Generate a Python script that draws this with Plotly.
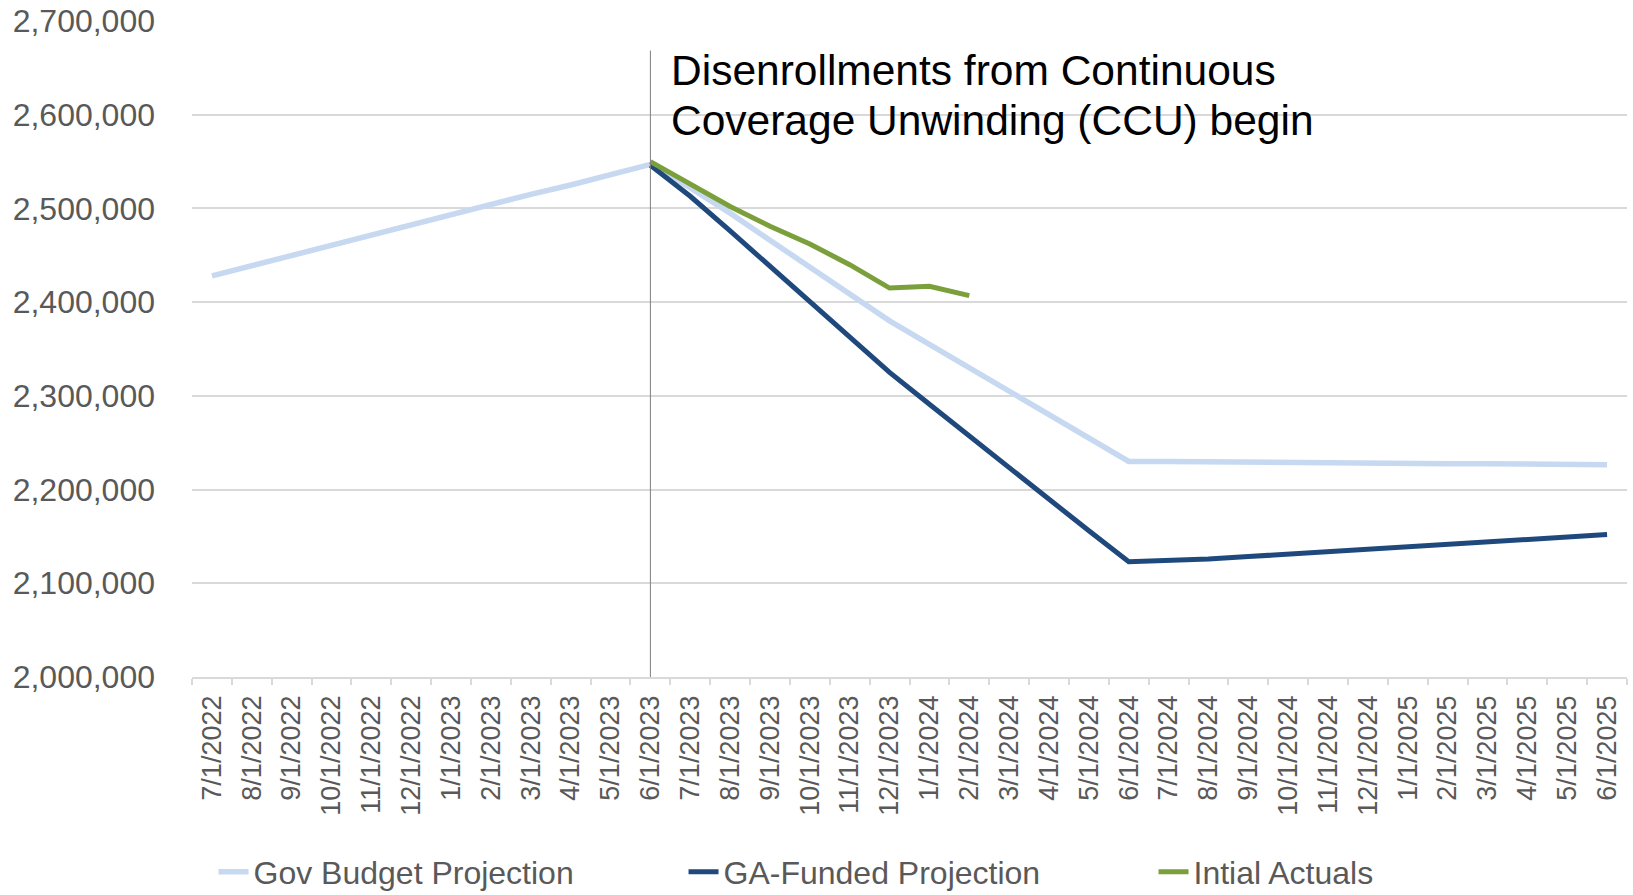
import plotly.graph_objects as go

months = [
    "7/1/2022", "8/1/2022", "9/1/2022", "10/1/2022", "11/1/2022", "12/1/2022",
    "1/1/2023", "2/1/2023", "3/1/2023", "4/1/2023", "5/1/2023", "6/1/2023",
    "7/1/2023", "8/1/2023", "9/1/2023", "10/1/2023", "11/1/2023", "12/1/2023",
    "1/1/2024", "2/1/2024", "3/1/2024", "4/1/2024", "5/1/2024", "6/1/2024",
    "7/1/2024", "8/1/2024", "9/1/2024", "10/1/2024", "11/1/2024", "12/1/2024",
    "1/1/2025", "2/1/2025", "3/1/2025", "4/1/2025", "5/1/2025", "6/1/2025",
]

gov_budget = [
    2428000, 2439000, 2450000, 2460000, 2471000, 2482000,
    2493000, 2504000, 2515000, 2525000, 2536000, 2547000,
    2522000, 2495000, 2466000, 2437000, 2408000, 2380000,
    2355000, 2330000, 2305000, 2280000, 2255000, 2230000,
    2230000, 2229500, 2229000, 2229000, 2228500, 2228000,
    2228000, 2227500, 2227500, 2227000, 2227000, 2226500,
]

ga_funded = [
    None, None, None, None, None, None,
    None, None, None, None, None, 2546000,
    2513000, 2476000, 2438000, 2400000, 2362000, 2325000,
    2291000, 2257000, 2224000, 2190000, 2156000, 2123000,
    2124000, 2126000, 2128500, 2131000, 2133500, 2136000,
    2138500, 2141000, 2143500, 2146000, 2149000, 2152000,
]

initial_actuals = [
    None, None, None, None, None, None,
    None, None, None, None, None, 2550000,
    2526000, 2502000, 2481000, 2462000, 2440000, 2415000,
    2417000, 2407000, None, None, None, None,
    None, None, None, None, None, None,
    None, None, None, None, None, None,
]

series_names = ["Gov Budget Projection", "GA-Funded Projection", "Intial Actuals"]
series_colors = ["#C6D9F1", "#1F497D", "#7A9F3B"]
ccu_month = "6/1/2023"
ccu_lines = ["Disenrollments from Continuous", "Coverage Unwinding (CCU) begin"]

FONT = "Liberation Sans, Arial, sans-serif"
GRAY = "#595959"

fig = go.Figure()
for name, vals, col, w in zip(series_names, [gov_budget, ga_funded, initial_actuals],
                              series_colors, [5.5, 5, 5]):
    fig.add_trace(go.Scatter(
        x=months, y=vals, name=name, mode="lines",
        line=dict(color=col, width=w), connectgaps=False,
    ))

ccu_idx = months.index(ccu_month)
fig.add_shape(type="line", xref="x", yref="paper",
              x0=ccu_idx, x1=ccu_idx, y0=0, y1=0.955,
              line=dict(color="#7F7F7F", width=1), layer="above")

for txt, ypos in zip(ccu_lines, [0.925, 0.849]):
    fig.add_annotation(x=ccu_idx, xref="x", y=ypos, yref="paper",
                       text=txt, showarrow=False, xanchor="left", yanchor="middle",
                       xshift=19, align="left",
                       font=dict(family=FONT, size=42.5, color="#000000"))

fig.update_layout(
    width=1633, height=895,
    paper_bgcolor="white", plot_bgcolor="white",
    margin=dict(l=192, r=6, t=21, b=218, autoexpand=False),
    showlegend=True,
    legend=dict(orientation="h", x=0.015, xanchor="left", y=-0.297, yanchor="middle",
                font=dict(family=FONT, size=32, color=GRAY),
                entrywidth=425, entrywidthmode="pixels",
                bgcolor="rgba(0,0,0,0)"),
    font=dict(family=FONT, color=GRAY),
)

fig.update_xaxes(
    type="category", categoryorder="array", categoryarray=months,
    range=[-0.5, len(months) - 0.5],
    tickson="boundaries", ticks="outside", ticklen=6, tickcolor="#D9D9D9", tickwidth=1.5,
    showline=True, linecolor="#D9D9D9", linewidth=1.5,
    showgrid=False, tickangle=-90,
    tickfont=dict(family=FONT, size=27, color=GRAY),
    ticklabelstandoff=6,
)

fig.update_yaxes(
    range=[2000000, 2700000], dtick=100000, tickformat=",",
    showgrid=True, gridcolor="#D9D9D9", gridwidth=1.5,
    zeroline=False, showline=False, ticks="",
    tickfont=dict(family=FONT, size=32, color=GRAY),
    ticklabelstandoff=36, ticklabeloverflow="allow",
)

fig.write_html(
    "out.html",
    config={"displayModeBar": False},
    post_script="document.body.style.margin='0';document.body.style.overflow='hidden';",
)
